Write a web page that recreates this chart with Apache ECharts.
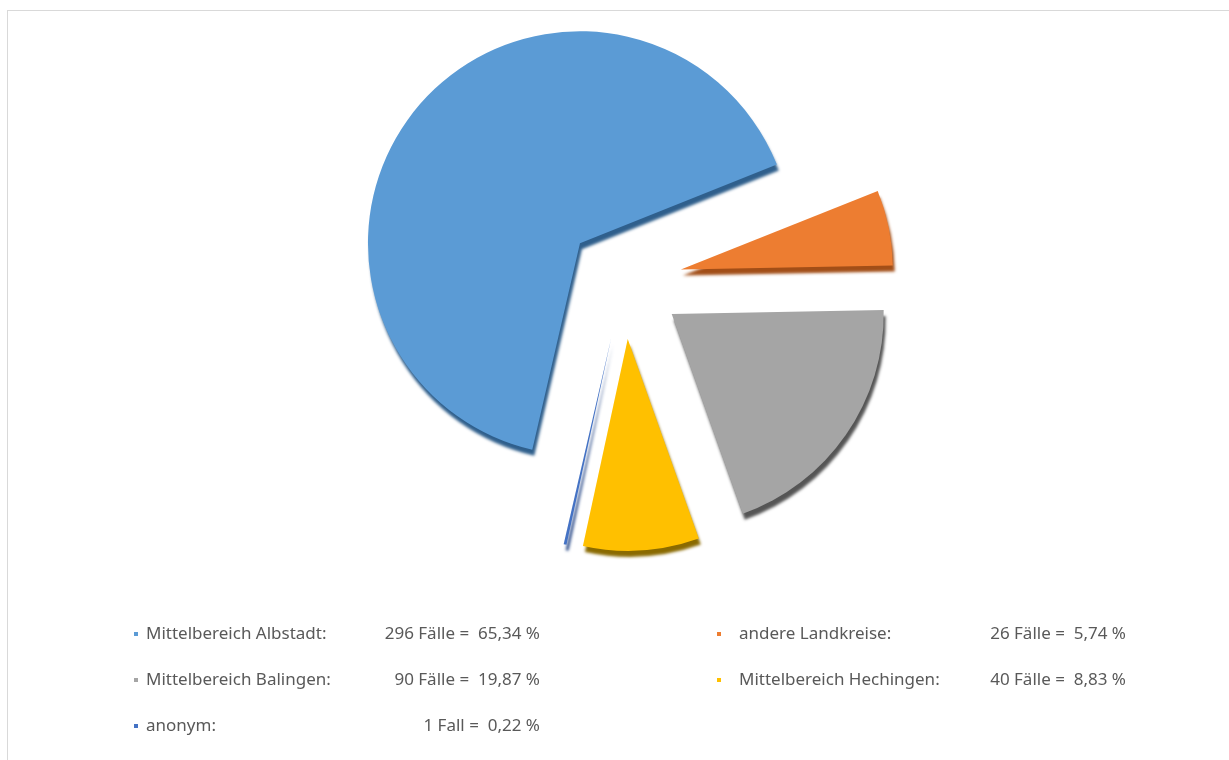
<!DOCTYPE html>
<html>
<head>
<meta charset="utf-8">
<script src="https://cdn.jsdelivr.net/npm/echarts@6/dist/echarts.min.js"></script>
<style>
  html, body { margin: 0; padding: 0; background: #fff; overflow: hidden; }
  #frame { position: absolute; left: 7px; top: 10px; width: 1260px; height: 800px; border: 1px solid #d9d9d9; }
  #pie { position: absolute; left: 0; top: 0; width: 1229px; height: 760px; }
</style>
</head>
<body>
<div id="frame"></div>
<div id="pie"></div>
<script>
// Fälle nach Herkunft
var names = ['Mittelbereich Albstadt', 'andere Landkreise', 'Mittelbereich Balingen', 'Mittelbereich Hechingen', 'anonym'];
var counts = [296, 26, 90, 40, 1];
var percents = ['65,34', '5,74', '19,87', '8,83', '0,22'];
var colors = ['#5B9BD5', '#ED7D31', '#A5A5A5', '#FFC000', '#4472C4'];
var edges = ['#2f5f8c', '#a24e17', '#555555', '#8a6a00', '#2a4a88'];

var leftCol = ['Mittelbereich Albstadt', 'Mittelbereich Balingen', 'anonym'];
var rightCol = ['andere Landkreise', 'Mittelbereich Hechingen'];

var pieChart = echarts.init(document.getElementById('pie'));

function valueText(name) {
    var i = names.indexOf(name);
    var word = counts[i] == 1 ? 'Fall' : 'Fälle';
    return counts[i] + ' ' + word + ' =  ' + percents[i] + ' %';
}

var font = '"Noto Sans", "Open Sans", sans-serif';

function legendFor(col, left, pad, total) {
    return {
        data: col,
        left: left,
        top: 619,
        orient: 'vertical',
        icon: 'rect',
        itemWidth: 4,
        itemHeight: 4,
        itemGap: 26,
        selectedMode: false,
        formatter: function (name) {
            return '{n|' + name + ':}{v|' + valueText(name) + '}';
        },
        textStyle: {
            color: '#595959',
            fontFamily: font,
            fontSize: 17,
            lineHeight: 20,
            rich: {
                n: { color: '#595959', fontFamily: font, fontSize: 17, width: 230, padding: [0, 0, 0, pad] },
                v: { color: '#595959', fontFamily: font, fontSize: 17, width: total - 230 - pad, align: 'right' }
            }
        }
    };
}

var option = {
    animation: false,
    color: colors,
    legend: [
        legendFor(leftCol, 129, 3, 397),
        legendFor(rightCol, 712, 13, 400)
    ],
    series: [
        {
            name: 'Fälle',
            type: 'pie',
            center: [624, 281],
            radius: [0, 212],
            startAngle: 257,
            selectedMode: 'multiple',
            selectedOffset: 58,
            label: { show: false },
            labelLine: { show: false },
            emphasis: { disabled: true },
            data: names.map(function (n, i) {
                return {
                    name: n,
                    value: counts[i],
                    selected: true,
                    itemStyle: {
                        color: colors[i],
                        shadowColor: edges[i],
                        shadowBlur: 3,
                        shadowOffsetX: 2,
                        shadowOffsetY: 6
                    }
                };
            })
        }
    ]
};

pieChart.setOption(option);
</script>
</body>
</html>
